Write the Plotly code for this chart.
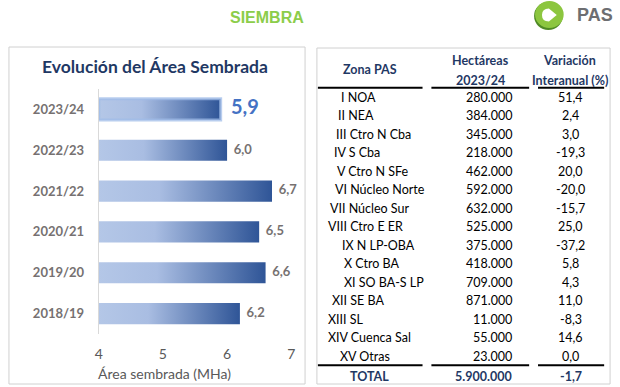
import plotly.graph_objects as go

# ---------------- data ----------------
years = ["2023/24", "2022/23", "2021/22", "2020/21", "2019/20", "2018/19"]
area_mha = [5.9, 6.0, 6.7, 6.5, 6.6, 6.2]
x_ticks = [4, 5, 6, 7]

zones = ["I NOA", "II NEA", "III Ctro N Cba", "IV S Cba", "V Ctro N SFe",
         "VI Núcleo Norte", "VII Núcleo Sur", "VIII Ctro E ER", "IX N LP-OBA",
         "X Ctro BA", "XI SO BA-S LP", "XII SE BA", "XIII SL",
         "XIV Cuenca Sal", "XV Otras"]
hectares = [280000, 384000, 345000, 218000, 462000, 592000, 632000, 525000,
            375000, 418000, 709000, 871000, 11000, 55000, 23000]
variation = [51.4, 2.4, 3.0, -19.3, 20.0, -20.0, -15.7, 25.0, -37.2,
             5.8, 4.3, 11.0, -8.3, 14.6, 0.0]
total_variation = -1.7

# ---------------- style ----------------
W, H = 620, 387
FONT = "Lato, Carlito, Calibri, sans-serif"
NAVY = "#1f3864"
GRAY = "#767171"
name_indent = [13, 10, 8, 6, 9, 7, 2, 0, 14, 16, 16, 4, 0, 0, 12]
BAR_W = 0.52


def es_int(v):
    return f"{v:,.0f}".replace(",", ".")


def es_dec(v):
    return f"{v:.1f}".replace(".", ",")


fig = go.Figure()

# gradient bars
scale = [[0, "#b4c7e7"], [0.35, "#a9bde2"], [1, "#2f5597"]]
for i, (yr, v) in enumerate(zip(years, area_mha)):
    h = BAR_W / 2
    fig.add_trace(go.Scatter(
        x=[x_ticks[0], v, v, x_ticks[0], x_ticks[0]],
        y=[i - h, i - h, i + h, i + h, i - h],
        mode="lines", fill="toself",
        fillgradient=dict(type="horizontal", colorscale=scale),
        line=dict(width=3 if i == 0 else 0,
                  color="rgba(160,188,232,0.75)" if i == 0 else "rgba(0,0,0,0)"),
        hoverinfo="skip", showlegend=False))

# value labels
lbl_text, lbl_size, lbl_color = [], [], []
for i, v in enumerate(area_mha):
    lbl_text.append("\u00a0\u00a0<b>" + es_dec(v) + "</b>")
    if i == 0:
        lbl_size.append(20)
        lbl_color.append("#4472c4")
    else:
        lbl_size.append(13)
        lbl_color.append(GRAY)
fig.add_trace(go.Scatter(
    x=area_mha, y=list(range(len(years))), mode="text", text=lbl_text,
    textposition="middle right", cliponaxis=False,
    textfont=dict(family=FONT, size=lbl_size, color=lbl_color),
    hoverinfo="skip", showlegend=False))

# dummy traces to instantiate helper axes
fig.add_trace(go.Scatter(x=[None], y=[None], xaxis="x2", yaxis="y2", showlegend=False))
fig.add_trace(go.Scatter(x=[None], y=[None], xaxis="x2", yaxis="y3", showlegend=False))

# row coordinates: row i at pixel 97 + 18.5*i
ROW0, ROWH = 97, 18.5
y2_top = -ROW0 / ROWH
y2_bot = (H - ROW0) / ROWH


def row_of(px):
    return (px - ROW0) / ROWH


fig.update_layout(
    width=W, height=H, margin=dict(l=0, r=0, t=0, b=0),
    paper_bgcolor="white", plot_bgcolor="rgba(0,0,0,0)",
    showlegend=False,
    xaxis=dict(domain=[96 / W, 291 / W], range=[4, 7], tickvals=x_ticks,
               showgrid=False, zeroline=False, showline=False,
               ticks="outside", ticklen=7, tickcolor="rgba(0,0,0,0)",
               tickfont=dict(family=FONT, size=14, color="#595959"),
               fixedrange=True),
    yaxis=dict(domain=[1 - 334 / H, 1 - 89 / H], range=[5.5, -0.5],
               tickvals=list(range(len(years))),
               ticktext=["<b>" + y + "</b>" for y in years],
               showgrid=False, zeroline=False, showline=True,
               linecolor="#d9d9d9", linewidth=1,
               ticks="outside", ticklen=11, tickcolor="rgba(0,0,0,0)",
               tickfont=dict(family=FONT, size=13, color=GRAY)),
    xaxis2=dict(domain=[0, 1], range=[0, W], visible=False, anchor="y2"),
    yaxis2=dict(domain=[0, 1], range=[y2_bot, y2_top], visible=False, anchor="x2"),
    yaxis3=dict(domain=[0, 1], range=[H, 0], visible=False, anchor="x2"),
)

shapes = []
annots = []

# panels
shapes.append(dict(type="rect", xref="x2", yref="y3", x0=5, x1=305, y0=47, y1=384,
                   line=dict(color="#d0d0d0", width=1)))
shapes.append(dict(type="rect", xref="x2", yref="y3", x0=317, x1=614, y0=48, y1=384,
                   line=dict(color="#d0d0d0", width=1)))

# logo
shapes.append(dict(type="circle", xref="x2", yref="y3", x0=537, x1=566, y0=2, y1=30,
                   fillcolor="#4f8a25", line=dict(width=0)))
shapes.append(dict(type="circle", xref="x2", yref="y3", x0=538, x1=567, y0=1, y1=28,
                   fillcolor="#8cc63f", line=dict(width=0)))
shapes.append(dict(type="path", xref="x2", yref="y3",
                   path="M 545 15 Q 545 8.5 552 8.5 L 560 15 L 552 21.5 Q 545 21.5 545 15 Z",
                   fillcolor="white", line=dict(width=0)))
annots.append(dict(xref="x2", yref="y3", x=599, y=15, text="<b>PAS</b>",
                   showarrow=False, font=dict(family="Liberation Sans, Arial", size=18, color="#6d6e71")))

# main heading
annots.append(dict(xref="x2", yref="y3", x=266, y=17, text="<b>SIEMBRA</b>",
                   showarrow=False, font=dict(family="Liberation Sans, Arial", size=16, color="#8ccd4a")))

# chart title + axis title
annots.append(dict(xref="x2", yref="y3", x=153, y=66, text="<b>Evolución del Área Sembrada</b>",
                   showarrow=False, font=dict(family=FONT, size=17.5, color=NAVY)))
annots.append(dict(xref="x2", yref="y3", x=163, y=373, text="Área sembrada (MHa)",
                   showarrow=False, font=dict(family=FONT, size=14, color="#595959")))

# table columns
C1_L, C2_R, C3_C = 326, 517, 574
cell_font = dict(family=FONT, size=12.5, color="black")
hdr_font = dict(family=FONT, size=12.5, color=NAVY)

annots.append(dict(xref="x2", yref="y2", x=371, y=row_of(69), text="<b>Zona PAS</b>",
                   showarrow=False, font=hdr_font))
annots.append(dict(xref="x2", yref="y2", x=483, y=row_of(60), text="<b>Hectáreas</b>",
                   showarrow=False, font=hdr_font))
annots.append(dict(xref="x2", yref="y2", x=483, y=row_of(80), text="<b>2023/24</b>",
                   showarrow=False, font=hdr_font))
annots.append(dict(xref="x2", yref="y2", x=573, y=row_of(60), text="<b>Variación</b>",
                   showarrow=False, font=hdr_font))
annots.append(dict(xref="x2", yref="y2", x=573, y=row_of(80), text="<b>Interanual (%)</b>",
                   showarrow=False, font=hdr_font))

for i, (z, h, v) in enumerate(zip(zones, hectares, variation)):
    annots.append(dict(xref="x2", yref="y2", x=C1_L + name_indent[i], y=i, text=z,
                       xanchor="left", showarrow=False, font=cell_font))
    annots.append(dict(xref="x2", yref="y2", x=C2_R, y=i, text=es_int(h),
                       xanchor="right", showarrow=False, font=cell_font))
    annots.append(dict(xref="x2", yref="y2", x=C3_C, y=i, text=es_dec(v),
                       xanchor="center", showarrow=False, font=cell_font))

n = len(zones)
tot_row = row_of(376)
annots.append(dict(xref="x2", yref="y2", x=370, y=tot_row, text="<b>TOTAL</b>",
                   showarrow=False, font=hdr_font))
annots.append(dict(xref="x2", yref="y2", x=C2_R, y=tot_row, text="<b>" + es_int(sum(hectares)) + "</b>",
                   xanchor="right", showarrow=False, font=hdr_font))
annots.append(dict(xref="x2", yref="y2", x=C3_C, y=tot_row, text="<b>" + es_dec(total_variation) + "</b>",
                   xanchor="center", showarrow=False, font=hdr_font))

# header / total rules
for (a, b) in [(318, 424), (433, 532), (541, 608)]:
    for yy in (-0.5, n - 0.5):
        shapes.append(dict(type="line", xref="x2", yref="y2", x0=a, x1=b, y0=yy, y1=yy,
                           line=dict(color="black", width=2)))

fig.update_layout(shapes=shapes, annotations=annots)
fig.write_html("out.html", config={"displayModeBar": False},
               post_script="document.body.style.margin='0';document.body.style.overflow='hidden';")
